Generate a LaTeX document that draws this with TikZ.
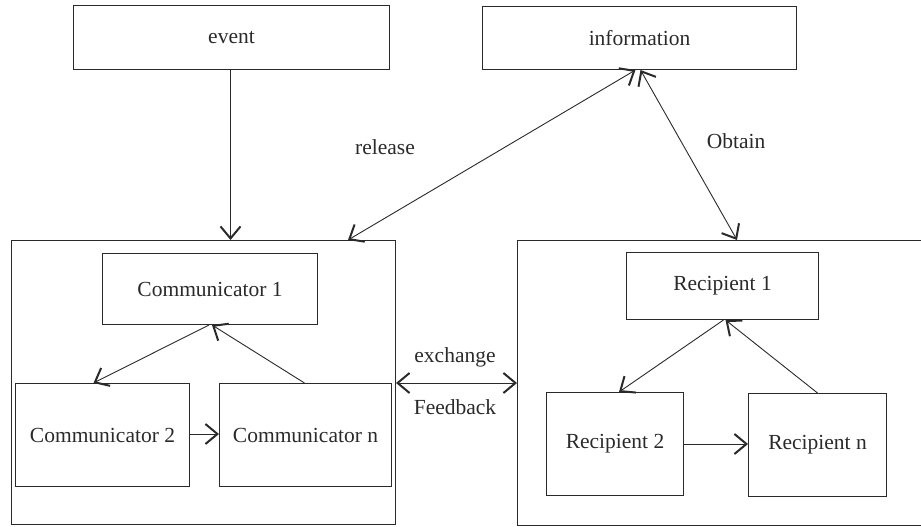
\documentclass[tikz,border=0pt]{standalone}
\usepackage{fontspec}
\setmainfont{Liberation Serif}
\usetikzlibrary{arrows.meta,calc}
\definecolor{ink}{HTML}{2A2A2A}
\begin{document}
\begin{tikzpicture}[x=1pt,y=-1pt,
  every node/.style={font=\fontsize{21.5}{25}\selectfont, text=ink},
  box/.style={draw=ink, line width=1pt, inner sep=0pt, anchor=north west},
  lbl/.style={inner sep=0pt},
  conn/.style={draw=ink, line width=0.9pt},
  >={Straight Barb[length=12pt,width=20pt,line width=2pt]}]
\useasboundingbox (0,0) rectangle (921,527);
\clip (0,0) rectangle (921,527);
% top boxes
\node[box, minimum width=316, minimum height=64] (event) at (73,5) {event};
\node[box, minimum width=314, minimum height=63] (info) at (482,6) {information};
% outer groups
\node[box, minimum width=384, minimum height=284] (left) at (11,240) {};
\node[box, minimum width=420, minimum height=285] (right) at (517,240) {};
% communicators
\node[box, minimum width=215, minimum height=71] (c1) at (102,253) {Communicator 1};
\node[box, minimum width=174, minimum height=103] (c2) at (15,383) {Communicator 2};
\node[box, minimum width=172, minimum height=103] (cn) at (219,383) {Communicator n};
% recipients
\node[box, minimum width=192, minimum height=67] (r1) at (626,252) {Recipient 1};
\node[box, minimum width=137, minimum height=103] (r2) at (546,392) {Recipient 2};
\node[box, minimum width=138, minimum height=103] (rn) at (748,393) {Recipient n};
% labels
\node[lbl] (lrel) at (385,147) {release};
\node[lbl] (lobt) at (736,141) {Obtain};
\node[lbl] (lexc) at (455,357) {exchange};
\node[lbl] (lfed) at (455,407) {Feedback};
% connectors
\coordinate (evb) at ([xshift=-1pt]event.south);
\draw[conn,->] (evb) -- (evb |- left.north);
\draw[conn,<->] ([xshift=-48pt]left.north east) -- ([xshift=-4pt]info.south);
\draw[conn,<->] ([xshift=1pt]info.south) -- ([xshift=220pt]right.north west);
\draw[conn,<->] (left.east |- 0,383) -- (right.west |- 0,383);
% inside left
\draw[conn,->] ([xshift=-1pt]c1.south) -- ([xshift=-9pt]c2.north);
\draw[conn,->] ([xshift=-1pt]cn.north) -- ([xshift=2pt]c1.south);
\draw[conn,->] (c2.east |- 0,434) -- (cn.west |- 0,434);
% inside right
\draw[conn,->] ([xshift=1pt]r1.south) -- ([xshift=4pt]r2.north);
\draw[conn,->] (rn.north) -- ([xshift=3pt]r1.south);
\draw[conn,->] (r2.east |- 0,444) -- (rn.west |- 0,444);
\end{tikzpicture}
\end{document}
